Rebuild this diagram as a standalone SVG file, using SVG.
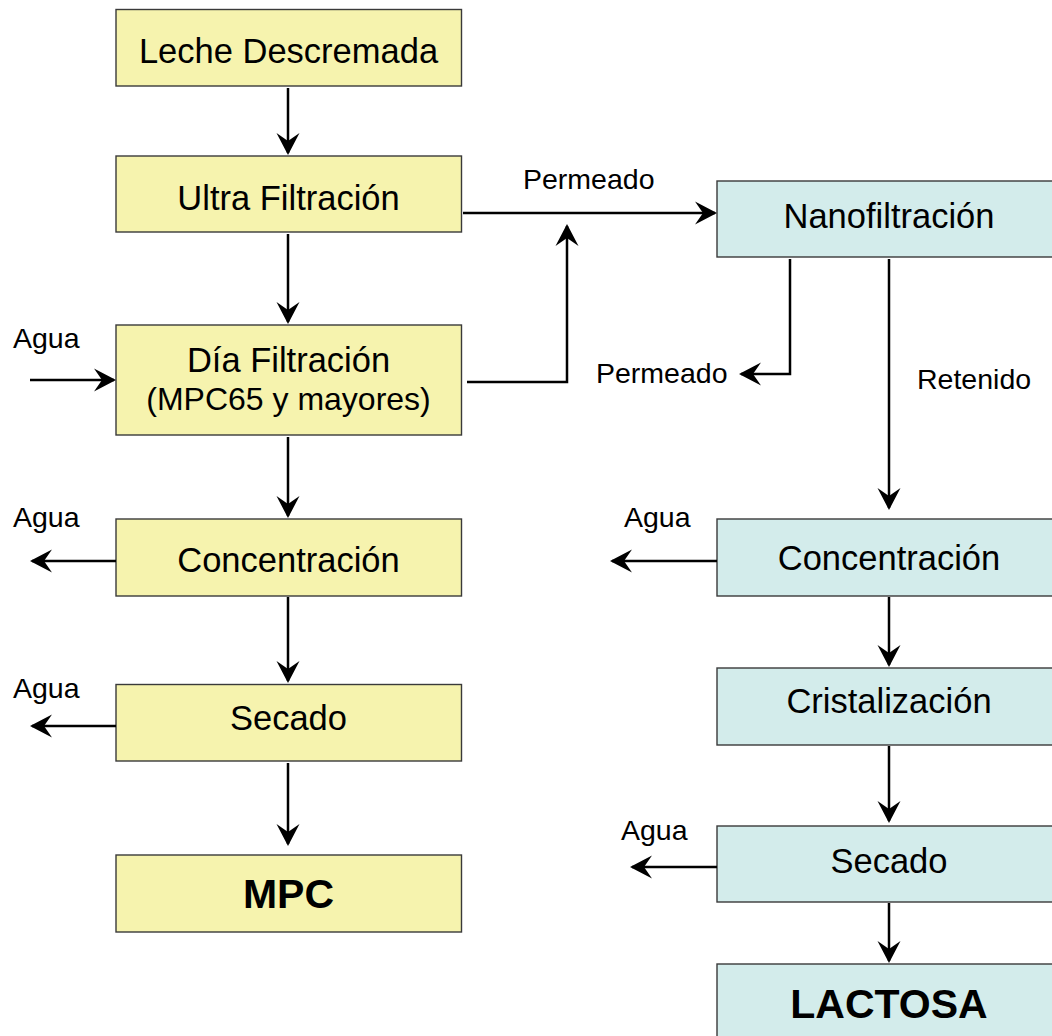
<svg xmlns="http://www.w3.org/2000/svg" width="1052" height="1036" viewBox="0 0 1052 1036">
<style>
.y{fill:#F6F3AE;stroke:#3a3a3a;stroke-width:1.4}
.c{fill:#D3ECEB;stroke:#3a3a3a;stroke-width:1.4}
.t{font-family:"Liberation Sans",Arial,sans-serif;font-size:34.5px;fill:#000;text-anchor:middle}
.b{font-family:"Liberation Sans",Arial,sans-serif;font-size:41px;font-weight:bold;fill:#000;text-anchor:middle}
.l{font-family:"Liberation Sans",Arial,sans-serif;font-size:28.5px;fill:#000}
.e{fill:none;stroke:#000;stroke-width:2.5;marker-end:url(#ah)}
</style>
<defs>
<marker id="ah" markerUnits="userSpaceOnUse" viewBox="-24 -13 26 26" refX="-2" refY="0" markerWidth="26" markerHeight="26" orient="auto">
<path d="M0,0 L-22,-11.5 L-14,0 L-22,11.5 Z" fill="#000"/>
</marker>
</defs>
<rect width="1052" height="1036" fill="#fff"/>
<g id="n-leche"><rect class="y" x="116" y="9.5" width="345.5" height="76.5"/><text class="t" x="288.5" y="63">Leche Descremada</text></g>
<g id="n-ultra"><rect class="y" x="116" y="156" width="345.5" height="76"/><text class="t" x="288.5" y="210">Ultra Filtración</text></g>
<g id="n-dia"><rect class="y" x="116" y="325" width="345.5" height="110"/><text class="t" x="288.5" y="372">Día Filtración</text><text class="t" x="288.5" y="410" style="font-size:32px">(MPC65 y mayores)</text></g>
<g id="n-conc-l"><rect class="y" x="116" y="519" width="345.5" height="77"/><text class="t" x="288.5" y="572">Concentración</text></g>
<g id="n-sec-l"><rect class="y" x="116" y="684.5" width="345.5" height="76.5"/><text class="t" x="288.5" y="730">Secado</text></g>
<g id="n-mpc"><rect class="y" x="116" y="855" width="345.5" height="77"/><text class="b" x="288.5" y="908">MPC</text></g>
<g id="n-nano"><rect class="c" x="717" y="181" width="345" height="76"/><text class="t" x="889" y="228">Nanofiltración</text></g>
<g id="n-conc-r"><rect class="c" x="717" y="519" width="345" height="77"/><text class="t" x="889" y="570">Concentración</text></g>
<g id="n-crist"><rect class="c" x="717" y="668" width="345" height="77"/><text class="t" x="889" y="713">Cristalización</text></g>
<g id="n-sec-r"><rect class="c" x="717" y="826" width="345" height="76"/><text class="t" x="889" y="873">Secado</text></g>
<g id="n-lact"><rect class="c" x="717" y="964" width="345" height="80"/><text class="b" x="889" y="1018">LACTOSA</text></g>
<g id="connectors">
<path class="e" d="M288,88 V153"/>
<path class="e" d="M288,234 V322"/>
<path class="e" d="M288,437 V516"/>
<path class="e" d="M288,597 V681"/>
<path class="e" d="M288,763 V844"/>
<path class="e" d="M463,213 H715"/>
<path class="e" d="M467,382 H567 V226"/>
<path class="e" d="M30,380 H114"/>
<path class="e" d="M116,561 H32"/>
<path class="e" d="M116,726 H32"/>
<path class="e" d="M790,259 V374 H741"/>
<path class="e" d="M889,259 V508"/>
<path class="e" d="M717,561 H612"/>
<path class="e" d="M889,597 V665"/>
<path class="e" d="M889,746 V821"/>
<path class="e" d="M717,867 H632"/>
<path class="e" d="M889,903 V961"/>
</g>
<g id="labels">
<text class="l" x="523" y="189">Permeado</text>
<text class="l" x="13" y="348">Agua</text>
<text class="l" x="13" y="527">Agua</text>
<text class="l" x="13" y="698">Agua</text>
<text class="l" x="596" y="383">Permeado</text>
<text class="l" x="917" y="389">Retenido</text>
<text class="l" x="624" y="527">Agua</text>
<text class="l" x="621" y="840">Agua</text>
</g>
</svg>
